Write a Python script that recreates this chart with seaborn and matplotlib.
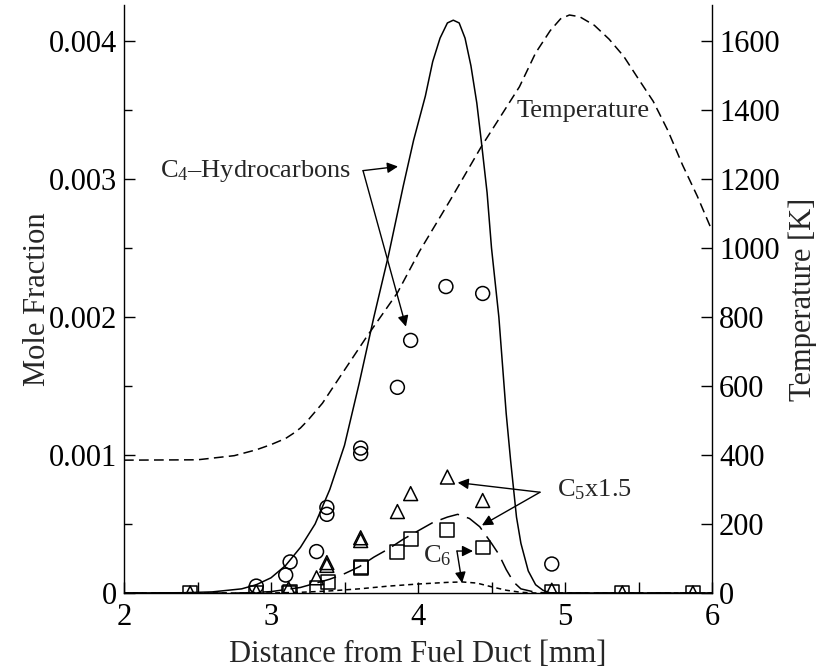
import matplotlib
matplotlib.use("Agg")
import matplotlib.pyplot as plt
import seaborn as sns
import pandas as pd
from matplotlib.ticker import MultipleLocator, FuncFormatter

# ---------------- data ----------------
c4_model_x = [2.0, 2.4, 2.6, 2.8, 2.9, 3.0, 3.1, 3.2, 3.3, 3.4, 3.5, 3.6, 3.7, 3.8, 3.9,
              3.97, 4.05, 4.1, 4.15, 4.2, 4.24, 4.28, 4.32, 4.36, 4.4, 4.43, 4.47, 4.5,
              4.55, 4.6, 4.63, 4.67, 4.7, 4.75, 4.8, 4.85, 4.9, 6.0]
c4_model_y = [0.0, 0.000002, 0.000008, 0.00003, 0.00006, 0.00011, 0.0002, 0.00033, 0.0005,
              0.00075, 0.00107, 0.00152, 0.00200, 0.00245, 0.00295, 0.00328, 0.0036,
              0.00385, 0.00402, 0.00413, 0.00415, 0.00413, 0.00402, 0.00382, 0.00355,
              0.00328, 0.0029, 0.0025, 0.002, 0.0013, 0.00096, 0.00055, 0.00036, 0.00016,
              0.00006, 0.00002, 0.0, 0.0]

c5_model_x = [2.0, 2.8, 3.0, 3.2, 3.4, 3.5, 3.6, 3.7, 3.8, 3.9, 4.0, 4.1, 4.2, 4.27, 4.35,
              4.42, 4.5, 4.55, 4.6, 4.65, 4.7, 4.8, 4.9, 6.0]
c5_model_y = [0.0, 0.0, 0.00001, 0.00004, 0.0001, 0.00014, 0.00019, 0.00026, 0.00032,
              0.00039, 0.00045, 0.00051, 0.00055, 0.00057, 0.00054, 0.00048, 0.00036,
              0.00028, 0.00017, 0.00008, 0.00003, 0.000005, 0.0, 0.0]

c6_model_x = [2.0, 3.0, 3.2, 3.4, 3.6, 3.8, 4.0, 4.2, 4.3, 4.4, 4.5, 4.6, 4.7, 4.8, 6.0]
c6_model_y = [0.0, 0.0, 0.000005, 0.000015, 0.00003, 0.00005, 0.000065, 0.000077, 0.00008,
              0.000072, 0.000045, 0.00002, 0.000005, 0.0, 0.0]

temp_x = [2.0, 2.5, 2.75, 2.9, 3.0, 3.1, 3.15, 3.2, 3.25, 3.35, 3.42, 3.65, 3.86, 4.01,
          4.22, 4.43, 4.69, 4.8, 4.9, 4.97, 5.03, 5.1, 5.2, 5.3, 5.4, 5.49, 5.6, 5.7, 5.8,
          5.9, 6.0]
temp_y = [385, 386, 398, 415, 430, 448, 462, 478, 500, 550, 595, 742, 870, 990,
          1139, 1293, 1467, 1565, 1630, 1664, 1675, 1670, 1645, 1605, 1555, 1496, 1425,
          1340, 1240, 1150, 1050]

c4_exp_x = [2.90, 3.10, 3.13, 3.31, 3.38, 3.38, 3.61, 3.61, 3.86, 3.95, 4.19, 4.44, 4.91]
c4_exp_y = [0.00005, 0.00013, 0.000225, 0.0003, 0.00057, 0.00062, 0.00101, 0.00105,
            0.00149, 0.00183, 0.00222, 0.00217, 0.00021]

c5_exp_x = [2.45, 2.90, 3.12, 3.31, 3.38, 3.38, 3.61, 3.61, 3.86, 3.95, 4.20, 4.44, 4.91,
            5.39, 5.87]
c5_exp_y = [0.0, 0.00001, 0.00003, 0.00011, 0.0002, 0.00022, 0.00038, 0.0004, 0.00059,
            0.00072, 0.00084, 0.00067, 0.00002, 0.0, 0.0]

c6_exp_x = [2.45, 2.90, 3.12, 3.13, 3.31, 3.39, 3.61, 3.61, 3.86, 3.95, 4.20, 4.44, 4.91,
            5.39, 5.87]
c6_exp_y = [0.0, 0.0, 0.0, 0.00001, 0.00004, 0.00008, 0.00018, 0.00019, 0.0003, 0.00039,
            0.000457, 0.00033, 0.00001, 0.0, 0.0]

x_ticks = [2, 3, 4, 5, 6]
y_ticks = [0, 0.001, 0.002, 0.003, 0.004]
t_ticks = [0, 200, 400, 600, 800, 1000, 1200, 1400, 1600]

# ---------------- style ----------------
sns.set_theme(style="ticks")
plt.rcParams["font.family"] = ["Liberation Serif", "DejaVu Serif"]
plt.rcParams["mathtext.fontset"] = "custom"
plt.rcParams["mathtext.rm"] = "Liberation Serif"
plt.rcParams["mathtext.it"] = "Liberation Serif:italic"
plt.rcParams["axes.linewidth"] = 1.0
plt.rcParams["lines.scale_dashes"] = False

fig = plt.figure(figsize=(8.16, 6.72), dpi=100)
ax = fig.add_axes([124 / 816, 79 / 672, 588 / 816, 588 / 672])
ax2 = ax.twinx()

# model curves
sns.lineplot(x=c4_model_x, y=c4_model_y, ax=ax, color="black", lw=1.1,
             estimator=None, sort=False)
l5 = sns.lineplot(x=c5_model_x, y=c5_model_y, ax=ax, color="black", lw=1.1,
                  estimator=None, sort=False).lines[-1]
l5.set_dashes((14, 6))
l6 = sns.lineplot(x=c6_model_x, y=c6_model_y, ax=ax, color="black", lw=1.1,
                  estimator=None, sort=False).lines[-1]
l6.set_dashes((3.6, 2.8))

# experiments
mk = dict(s=100, facecolor="none", edgecolor="black", linewidth=1.1, ax=ax, zorder=5)
sns.scatterplot(x=c4_exp_x, y=c4_exp_y, marker="o", **mk)
sns.scatterplot(x=c5_exp_x, y=c5_exp_y, marker="^", **mk)
sns.scatterplot(x=c6_exp_x, y=c6_exp_y, marker="s", **mk)

# temperature
lt = sns.lineplot(x=temp_x, y=temp_y, ax=ax2, color="black", lw=1.1,
                  estimator=None, sort=False).lines[-1]
lt.set_dashes((7, 3.8))

# ---------------- axes ----------------
ax.set_xlim(2, 6)
ax.set_ylim(0, 0.00426)
ax2.set_ylim(0, 1704)

ax.set_xticks(x_ticks)
ax.xaxis.set_minor_locator(MultipleLocator(0.5))
ax.set_yticks(y_ticks)
ax.yaxis.set_minor_locator(MultipleLocator(0.0005))
ax.yaxis.set_major_formatter(FuncFormatter(lambda v, p: "0" if v == 0 else f"{v:.3f}"))
ax2.set_yticks(t_ticks)

ax.tick_params(axis="both", which="both", direction="in", width=1.0, colors="black",
               labelsize=22, top=False, right=False)
ax.tick_params(axis="x", which="major", length=8, pad=7)
ax.tick_params(axis="x", which="minor", length=8)
ax.tick_params(axis="y", which="major", length=8, pad=5)
ax.tick_params(axis="y", which="minor", length=6)
ax2.tick_params(axis="y", which="major", direction="in", length=8, width=1.0,
                labelsize=22, pad=5, colors="black")

for a in (ax, ax2):
    a.spines["top"].set_visible(False)
    for s in a.spines.values():
        s.set_color("black")
ax.spines["right"].set_visible(False)
ax2.spines["left"].set_visible(False)
ax2.spines["bottom"].set_visible(False)

ax.set_xlabel("Distance from Fuel Duct [mm]", fontsize=22, labelpad=6)
ax.set_ylabel("Mole Fraction", fontsize=22, labelpad=-2)
ax2.set_ylabel("Temperature [K]", fontsize=22, labelpad=6)

# ---------------- annotations ----------------
arr = dict(arrowstyle="-|>", color="black", lw=1.0, shrinkA=0, shrinkB=0,
           mutation_scale=16)
ax.text(2.245, 0.003014, r"C$_{\mathrm{4}}$–Hydrocarbons", fontsize=19,
        ha="left", va="baseline")
ax.annotate("", xy=(3.864, 0.00309), xytext=(3.626, 0.00306), arrowprops=arr)
ax.annotate("", xy=(3.918, 0.00193), xytext=(3.626, 0.00306), arrowprops=arr)

ax.text(4.673, 0.00345, "Temperature", fontsize=19, ha="left", va="baseline")

ax.text(4.946, 0.000703, r"C$_{\mathrm{5}}$x1.5", fontsize=19, ha="left", va="baseline")
ax.annotate("", xy=(4.27, 0.0008), xytext=(4.83, 0.00073), arrowprops=arr)
ax.annotate("", xy=(4.435, 0.00049), xytext=(4.83, 0.00073), arrowprops=arr)

ax.text(4.034, 0.000225, r"C$_{\mathrm{6}}$", fontsize=19, ha="left", va="baseline")
ax.annotate("", xy=(4.374, 0.000304), xytext=(4.265, 0.000304), arrowprops=arr)
ax.annotate("", xy=(4.30, 0.0000725), xytext=(4.265, 0.000304), arrowprops=arr)

fig.savefig("out.png", dpi=100)
